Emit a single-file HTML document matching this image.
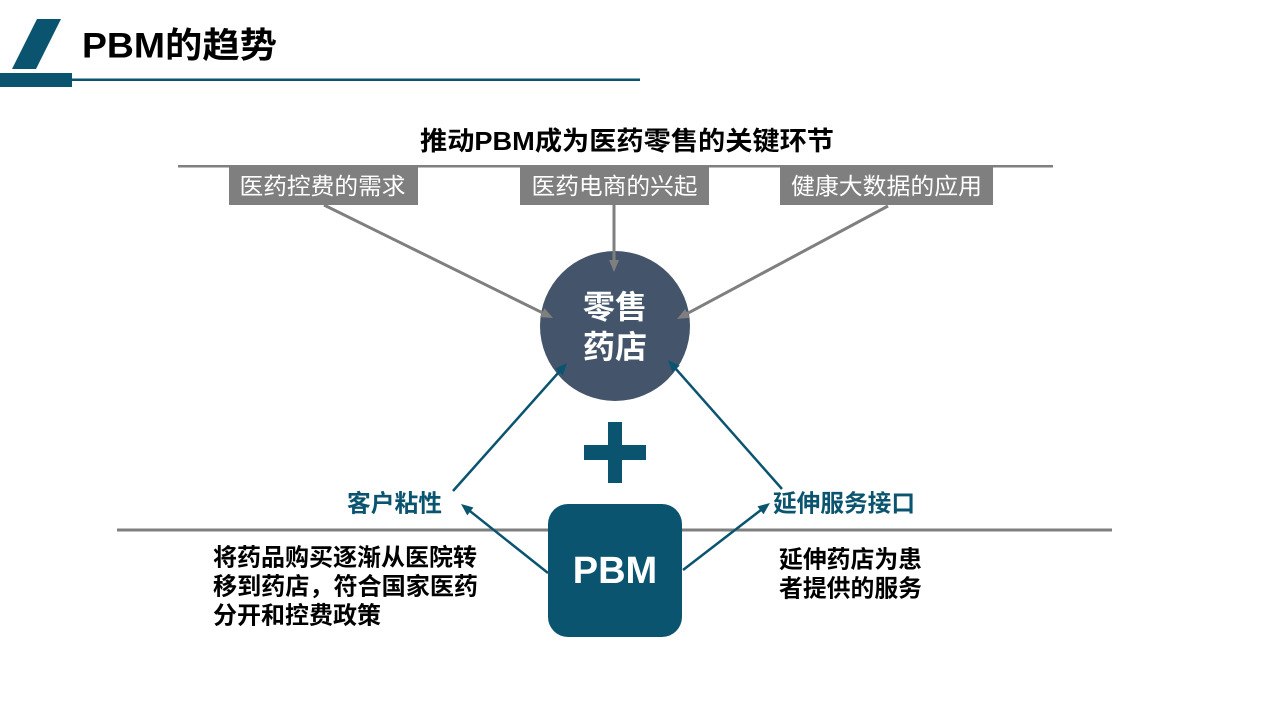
<!DOCTYPE html>
<html>
<head>
<meta charset="utf-8">
<style>
html,body{margin:0;padding:0;background:#fff;}
svg{display:block;}
text{font-family:"Liberation Sans","Noto Sans CJK SC",sans-serif;}
</style>
</head>
<body>
<svg width="1280" height="720" viewBox="0 0 1280 720" xmlns="http://www.w3.org/2000/svg">
  <defs>
    <marker id="ag" markerUnits="userSpaceOnUse" markerWidth="12" markerHeight="10" refX="6" refY="5" orient="auto">
      <path d="M0,0 L12,5 L0,10 z" fill="#7f7f7f"/>
    </marker>
    <marker id="ab" markerUnits="userSpaceOnUse" markerWidth="12" markerHeight="10" refX="6" refY="5" orient="auto">
      <path d="M0,0 L12,5 L0,10 z" fill="#0b5470"/>
    </marker>
  </defs>

  <!-- Header -->
  <polygon points="37,19 61,19 36,69 12,69" fill="#0b5470"/>
  <rect x="0" y="73" width="72" height="14" fill="#0b5470"/>
  <rect x="72" y="78.5" width="568" height="2.5" fill="#0b5470"/>
  <text x="82" y="46" font-size="35" font-weight="bold" fill="#000" dominant-baseline="central" textLength="195" lengthAdjust="spacingAndGlyphs">PBM的趋势</text>

  <!-- Subtitle -->
  <text x="627" y="141" font-size="26" font-weight="bold" fill="#000" text-anchor="middle" dominant-baseline="central" textLength="414" lengthAdjust="spacingAndGlyphs">推动PBM成为医药零售的关键环节</text>
  <rect x="178" y="165" width="875" height="2.5" fill="#7f7f7f"/>

  <!-- Gray boxes -->
  <rect x="229" y="167" width="189" height="38" fill="#7f7f7f"/>
  <rect x="520" y="167" width="189" height="38" fill="#7f7f7f"/>
  <rect x="780" y="167" width="213" height="38" fill="#7f7f7f"/>
  <text x="322.5" y="186" font-size="23" fill="#fff" text-anchor="middle" dominant-baseline="central" textLength="166" lengthAdjust="spacingAndGlyphs">医药控费的需求</text>
  <text x="614.5" y="186" font-size="23" fill="#fff" text-anchor="middle" dominant-baseline="central" textLength="166" lengthAdjust="spacingAndGlyphs">医药电商的兴起</text>
  <text x="886.5" y="186" font-size="23" fill="#fff" text-anchor="middle" dominant-baseline="central" textLength="191" lengthAdjust="spacingAndGlyphs">健康大数据的应用</text>

  <!-- Circle -->
  <circle cx="615" cy="326" r="75" fill="#44546a"/>
  <text x="615" y="307" font-size="32" font-weight="bold" fill="#fff" text-anchor="middle" dominant-baseline="central">零售</text>
  <text x="615" y="347" font-size="32" font-weight="bold" fill="#fff" text-anchor="middle" dominant-baseline="central">药店</text>

  <!-- Gray arrows (drawn over circle) -->
  <line x1="324" y1="205" x2="547.6" y2="315.3" stroke="#7f7f7f" stroke-width="3" marker-end="url(#ag)"/>
  <line x1="614" y1="205" x2="614" y2="266" stroke="#7f7f7f" stroke-width="3" marker-end="url(#ag)"/>
  <line x1="888" y1="206" x2="682.3" y2="316.2" stroke="#7f7f7f" stroke-width="3" marker-end="url(#ag)"/>

  <!-- Plus -->
  <rect x="608" y="422" width="14" height="61" fill="#0b5470"/>
  <rect x="584" y="445" width="62" height="15" fill="#0b5470"/>

  <!-- Divider line -->
  <rect x="117" y="528.5" width="995" height="3" fill="#7f7f7f"/>

  <!-- PBM box -->
  <rect x="548" y="504" width="134" height="133" rx="20" ry="20" fill="#0b5470"/>
  <text x="615" y="571" font-size="38" font-weight="bold" fill="#fff" text-anchor="middle" dominant-baseline="central">PBM</text>

  <!-- Blue arrows -->
  <line x1="453" y1="491" x2="563" y2="367.5" stroke="#0b5470" stroke-width="2.5" marker-end="url(#ab)"/>
  <line x1="782" y1="489" x2="672" y2="364.5" stroke="#0b5470" stroke-width="2.5" marker-end="url(#ab)"/>
  <line x1="548" y1="573" x2="465.7" y2="507.7" stroke="#0b5470" stroke-width="2.5" marker-end="url(#ab)"/>
  <line x1="683" y1="570" x2="765.2" y2="506.7" stroke="#0b5470" stroke-width="2.5" marker-end="url(#ab)"/>

  <!-- Blue labels -->
  <text x="347" y="504" font-size="24" font-weight="bold" fill="#0b5470" dominant-baseline="central" textLength="95" lengthAdjust="spacingAndGlyphs">客户粘性</text>
  <text x="773" y="504" font-size="24" font-weight="bold" fill="#0b5470" dominant-baseline="central" textLength="142" lengthAdjust="spacingAndGlyphs">延伸服务接口</text>

  <!-- Left paragraph -->
  <text x="213" y="558" font-size="24" font-weight="bold" fill="#000" dominant-baseline="central" textLength="264" lengthAdjust="spacingAndGlyphs">将药品购买逐渐从医院转</text>
  <text x="213" y="587" font-size="24" font-weight="bold" fill="#000" dominant-baseline="central" textLength="265" lengthAdjust="spacingAndGlyphs">移到药店，符合国家医药</text>
  <text x="213" y="616" font-size="24" font-weight="bold" fill="#000" dominant-baseline="central" textLength="168" lengthAdjust="spacingAndGlyphs">分开和控费政策</text>

  <!-- Right paragraph -->
  <text x="779" y="560" font-size="24" font-weight="bold" fill="#000" dominant-baseline="central" textLength="143" lengthAdjust="spacingAndGlyphs">延伸药店为患</text>
  <text x="779" y="589" font-size="24" font-weight="bold" fill="#000" dominant-baseline="central" textLength="143" lengthAdjust="spacingAndGlyphs">者提供的服务</text>
</svg>
</body>
</html>
